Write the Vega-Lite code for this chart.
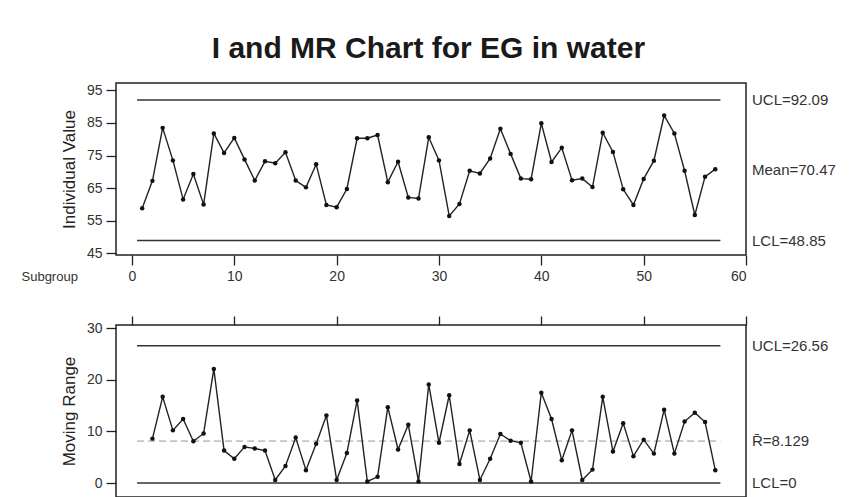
{
  "$schema": "https://vega.github.io/schema/vega-lite/v6.json",
  "background": "white",
  "padding": {"left": 20, "top": 34, "right": 0, "bottom": 0},
  "title": {"text": "I and MR Chart for EG in water", "font": "Liberation Sans", "fontSize": 30, "fontWeight": "bold", "color": "#1a1a1a", "anchor": "middle", "offset": 18},
  "config": {
    "font": "Liberation Sans",
    "view": {"stroke": "#222", "strokeWidth": 1.5},
    "axis": {"grid": false, "domain": false, "tickColor": "#222", "tickWidth": 1.3, "tickSize": 10, "tickCount": 10, "labelFont": "Liberation Sans", "labelFontSize": 14, "labelColor": "#333", "labelPadding": 4, "labelOverlap": false, "labelBound": false, "titleFont": "Liberation Sans", "titleFontSize": 17, "titleFontWeight": "normal", "titleColor": "#222"}
  },
  "datasets": {
    "ind": [
      {"subgroup": 1, "value": 58.8}, {"subgroup": 2, "value": 67.2}, {"subgroup": 3, "value": 83.5}, {"subgroup": 4, "value": 73.5}, {"subgroup": 5, "value": 61.5},
      {"subgroup": 6, "value": 69.3}, {"subgroup": 7, "value": 59.9}, {"subgroup": 8, "value": 81.8}, {"subgroup": 9, "value": 75.8}, {"subgroup": 10, "value": 80.4},
      {"subgroup": 11, "value": 73.8}, {"subgroup": 12, "value": 67.3}, {"subgroup": 13, "value": 73.2}, {"subgroup": 14, "value": 72.6}, {"subgroup": 15, "value": 76.0},
      {"subgroup": 16, "value": 67.3}, {"subgroup": 17, "value": 65.2}, {"subgroup": 18, "value": 72.3}, {"subgroup": 19, "value": 59.8}, {"subgroup": 20, "value": 59.1},
      {"subgroup": 21, "value": 64.7}, {"subgroup": 22, "value": 80.3}, {"subgroup": 23, "value": 80.3}, {"subgroup": 24, "value": 81.3}, {"subgroup": 25, "value": 66.8},
      {"subgroup": 26, "value": 73.1}, {"subgroup": 27, "value": 62.1}, {"subgroup": 28, "value": 61.8}, {"subgroup": 29, "value": 80.6}, {"subgroup": 30, "value": 73.5},
      {"subgroup": 31, "value": 56.4}, {"subgroup": 32, "value": 60.1}, {"subgroup": 33, "value": 70.3}, {"subgroup": 34, "value": 69.5}, {"subgroup": 35, "value": 74.1},
      {"subgroup": 36, "value": 83.2}, {"subgroup": 37, "value": 75.5}, {"subgroup": 38, "value": 67.9}, {"subgroup": 39, "value": 67.7}, {"subgroup": 40, "value": 84.9},
      {"subgroup": 41, "value": 73.0}, {"subgroup": 42, "value": 77.4}, {"subgroup": 43, "value": 67.4}, {"subgroup": 44, "value": 67.9}, {"subgroup": 45, "value": 65.3},
      {"subgroup": 46, "value": 82.0}, {"subgroup": 47, "value": 76.1}, {"subgroup": 48, "value": 64.6}, {"subgroup": 49, "value": 59.8}, {"subgroup": 50, "value": 67.8},
      {"subgroup": 51, "value": 73.4}, {"subgroup": 52, "value": 87.3}, {"subgroup": 53, "value": 81.8}, {"subgroup": 54, "value": 70.3}, {"subgroup": 55, "value": 56.7},
      {"subgroup": 56, "value": 68.5}, {"subgroup": 57, "value": 70.8}
    ],
    "mr": [
      {"subgroup": 2, "value": 8.6}, {"subgroup": 3, "value": 16.7}, {"subgroup": 4, "value": 10.2}, {"subgroup": 5, "value": 12.4}, {"subgroup": 6, "value": 8.1},
      {"subgroup": 7, "value": 9.6}, {"subgroup": 8, "value": 22.1}, {"subgroup": 9, "value": 6.3}, {"subgroup": 10, "value": 4.7}, {"subgroup": 11, "value": 7.0},
      {"subgroup": 12, "value": 6.7}, {"subgroup": 13, "value": 6.3}, {"subgroup": 14, "value": 0.6}, {"subgroup": 15, "value": 3.3}, {"subgroup": 16, "value": 8.8},
      {"subgroup": 17, "value": 2.5}, {"subgroup": 18, "value": 7.6}, {"subgroup": 19, "value": 13.1}, {"subgroup": 20, "value": 0.6}, {"subgroup": 21, "value": 5.8},
      {"subgroup": 22, "value": 16.0}, {"subgroup": 23, "value": 0.3}, {"subgroup": 24, "value": 1.2}, {"subgroup": 25, "value": 14.7}, {"subgroup": 26, "value": 6.5},
      {"subgroup": 27, "value": 11.3}, {"subgroup": 28, "value": 0.3}, {"subgroup": 29, "value": 19.1}, {"subgroup": 30, "value": 7.8}, {"subgroup": 31, "value": 17.0},
      {"subgroup": 32, "value": 3.7}, {"subgroup": 33, "value": 10.2}, {"subgroup": 34, "value": 0.6}, {"subgroup": 35, "value": 4.7}, {"subgroup": 36, "value": 9.5},
      {"subgroup": 37, "value": 8.2}, {"subgroup": 38, "value": 7.8}, {"subgroup": 39, "value": 0.3}, {"subgroup": 40, "value": 17.5}, {"subgroup": 41, "value": 12.4},
      {"subgroup": 42, "value": 4.4}, {"subgroup": 43, "value": 10.2}, {"subgroup": 44, "value": 0.6}, {"subgroup": 45, "value": 2.6}, {"subgroup": 46, "value": 16.7},
      {"subgroup": 47, "value": 6.1}, {"subgroup": 48, "value": 11.6}, {"subgroup": 49, "value": 5.2}, {"subgroup": 50, "value": 8.4}, {"subgroup": 51, "value": 5.7},
      {"subgroup": 52, "value": 14.2}, {"subgroup": 53, "value": 5.7}, {"subgroup": 54, "value": 11.9}, {"subgroup": 55, "value": 13.6}, {"subgroup": 56, "value": 11.8},
      {"subgroup": 57, "value": 2.5}
    ],
    "limI": [
      {"value": 92.09, "label": "UCL=92.09", "kind": "limit"},
      {"value": 70.47, "label": "Mean=70.47", "kind": "center"},
      {"value": 48.85, "label": "LCL=48.85", "kind": "limit"}
    ],
    "limMR": [
      {"value": 26.56, "label": "UCL=26.56", "kind": "limit"},
      {"value": 8.129, "label": "R\u0304=8.129", "kind": "center"},
      {"value": 0, "label": "LCL=0", "kind": "limit"}
    ]
  },
  "spacing": 70,
  "bounds": "flush",
  "vconcat": [
    {
      "width": 630,
      "height": 172,
      "layer": [
        {
          "data": {"name": "limI"},
          "transform": [{"filter": "datum.kind === 'limit'"}],
          "mark": {"type": "rule", "color": "#333", "strokeWidth": 1.5},
          "encoding": {
            "x": {"datum": 0.5, "type": "quantitative", "scale": {"domain": [-1.56, 60], "nice": false, "zero": false}},
            "x2": {"datum": 57.5},
            "y": {"field": "value", "type": "quantitative", "scale": {"domain": [44.4, 97.3], "nice": false, "zero": false}}
          }
        },
        {
          "data": {"name": "ind"},
          "mark": {"type": "line", "color": "#222", "strokeWidth": 1.4},
          "encoding": {
            "x": {"field": "subgroup", "type": "quantitative", "scale": {"domain": [-1.56, 60], "nice": false, "zero": false},
              "axis": {"values": [0, 10, 20, 30, 40, 50, 60], "title": "Subgroup", "titleX": -95, "titleY": 21, "titleAlign": "left", "titleBaseline": "middle", "titleFontSize": 13, "titleColor": "#333"}},
            "y": {"field": "value", "type": "quantitative", "scale": {"domain": [44.4, 97.3], "nice": false, "zero": false},
              "axis": {"values": [45, 55, 65, 75, 85, 95], "tickCount": 10, "title": "Individual Value", "titlePadding": 8}}
          }
        },
        {
          "data": {"name": "ind"},
          "mark": {"type": "point", "filled": true, "color": "#111", "size": 20, "opacity": 1},
          "encoding": {
            "x": {"field": "subgroup", "type": "quantitative"},
            "y": {"field": "value", "type": "quantitative"}
          }
        },
        {
          "data": {"name": "limI"},
          "mark": {"type": "text", "align": "left", "baseline": "middle", "dx": 6, "fontSize": 15, "color": "#333", "font": "Liberation Sans"},
          "encoding": {
            "x": {"datum": 60, "type": "quantitative"},
            "y": {"field": "value", "type": "quantitative"},
            "text": {"field": "label"}
          }
        }
      ]
    },
    {
      "width": 630,
      "height": 172,
      "layer": [
        {
          "data": {"name": "limMR"},
          "transform": [{"filter": "datum.kind === 'limit'"}],
          "mark": {"type": "rule", "color": "#333", "strokeWidth": 1.5},
          "encoding": {
            "x": {"datum": 0.5, "type": "quantitative", "scale": {"domain": [-1.56, 60], "nice": false, "zero": false}},
            "x2": {"datum": 57.5},
            "y": {"field": "value", "type": "quantitative", "scale": {"domain": [-2.7, 30.6], "nice": false, "zero": false}}
          }
        },
        {
          "data": {"name": "limMR"},
          "transform": [{"filter": "datum.kind === 'center'"}],
          "mark": {"type": "rule", "color": "#999", "strokeWidth": 1, "strokeDash": [7, 4]},
          "encoding": {
            "x": {"datum": 0.5, "type": "quantitative"},
            "x2": {"datum": 57.5},
            "y": {"field": "value", "type": "quantitative"}
          }
        },
        {
          "data": {"name": "mr"},
          "mark": {"type": "line", "color": "#222", "strokeWidth": 1.4},
          "encoding": {
            "x": {"field": "subgroup", "type": "quantitative", "scale": {"domain": [-1.56, 60], "nice": false, "zero": false},
              "axis": {"orient": "top", "values": [0, 10, 20, 30, 40, 50, 60], "labels": false, "title": null, "tickSize": 9}},
            "y": {"field": "value", "type": "quantitative", "scale": {"domain": [-2.7, 30.6], "nice": false, "zero": false},
              "axis": {"values": [0, 10, 20, 30], "title": "Moving Range", "titlePadding": 8}}
          }
        },
        {
          "data": {"name": "mr"},
          "mark": {"type": "point", "filled": true, "color": "#111", "size": 20, "opacity": 1},
          "encoding": {
            "x": {"field": "subgroup", "type": "quantitative"},
            "y": {"field": "value", "type": "quantitative"}
          }
        },
        {
          "data": {"name": "limMR"},
          "mark": {"type": "text", "align": "left", "baseline": "middle", "dx": 6, "fontSize": 15, "color": "#333", "font": "Liberation Sans"},
          "encoding": {
            "x": {"datum": 60, "type": "quantitative"},
            "y": {"field": "value", "type": "quantitative"},
            "text": {"field": "label"}
          }
        }
      ]
    }
  ]
}
